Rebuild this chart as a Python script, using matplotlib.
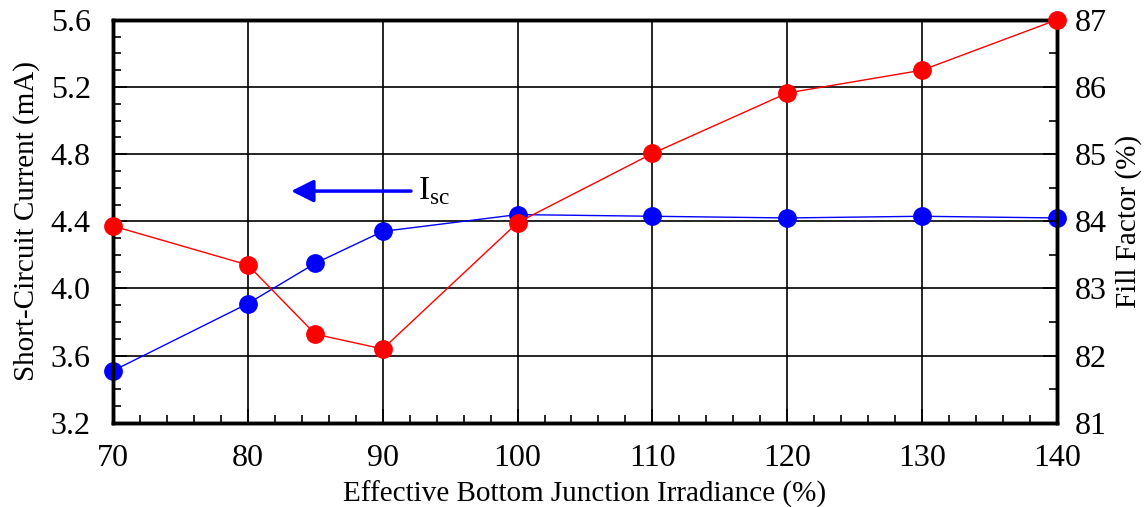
import matplotlib.pyplot as plt
from matplotlib.ticker import MultipleLocator

plt.rcParams['font.family'] = ['Liberation Serif', 'DejaVu Serif']

irradiance = [70, 80, 85, 90, 100, 110, 120, 130, 140]
isc = [3.51, 3.91, 4.15, 4.34, 4.44, 4.43, 4.42, 4.43, 4.42]
fill_factor = [83.93, 83.35, 82.32, 82.10, 83.98, 85.01, 85.91, 86.25, 87.0]

fig = plt.figure(figsize=(11.46, 5.07), dpi=100)
ax1 = fig.add_axes([0.0986, 0.166, 0.8237, 0.795])
ax2 = ax1.twinx()

ax1.plot(irradiance, isc, color='blue', linewidth=1, marker='o', markersize=12.5, clip_on=False, zorder=5)
ax2.plot(irradiance, fill_factor, color='red', linewidth=1, marker='o', markersize=12.5, clip_on=False, zorder=5)

ax1.set_xlim(70, 140)
ax1.set_ylim(3.2, 5.6)
ax2.set_ylim(81, 87)

ax1.xaxis.set_major_locator(MultipleLocator(10))
ax1.xaxis.set_minor_locator(MultipleLocator(2))
ax1.yaxis.set_major_locator(MultipleLocator(0.4))
ax1.yaxis.set_minor_locator(MultipleLocator(0.1))
ax2.yaxis.set_major_locator(MultipleLocator(1))
ax2.yaxis.set_minor_locator(MultipleLocator(0.5))
ax1.yaxis.set_major_formatter(lambda v, p: f"{v:.1f}")

ax1.grid(True, which='major', color='black', linewidth=1.2)
ax1.set_axisbelow(True)

ax1.tick_params(which='both', direction='in', labelsize=23, top=False, right=False)
ax1.tick_params(which='major', length=10, width=1.2, pad=15)
ax1.tick_params(which='minor', length=6, width=1.2)
ax1.tick_params(axis='y', which='major', pad=16)
ax2.tick_params(which='both', direction='in', labelsize=23)
ax2.tick_params(which='major', length=10, width=1.2, pad=13)
ax2.tick_params(which='minor', length=6, width=1.2)

for ax in (ax1, ax2):
    for s in ax.spines.values():
        s.set_linewidth(2.5)

ax1.set_xlabel('Effective Bottom Junction Irradiance (%)', fontsize=21, labelpad=6)
ax1.set_ylabel('Short-Circuit Current (mA)', fontsize=21, labelpad=8)
ax2.set_ylabel('Fill Factor (%)', fontsize=21, labelpad=6)

ax1.annotate('', xy=(83.0, 4.58), xytext=(92.3, 4.58),
             arrowprops=dict(arrowstyle='-|>', color='blue', lw=2.5, mutation_scale=34))
ax1.text(92.6, 4.58, r'I$_{\mathregular{sc}}$', fontsize=24, va='center', ha='left')

fig.savefig('out.png', dpi=100)
